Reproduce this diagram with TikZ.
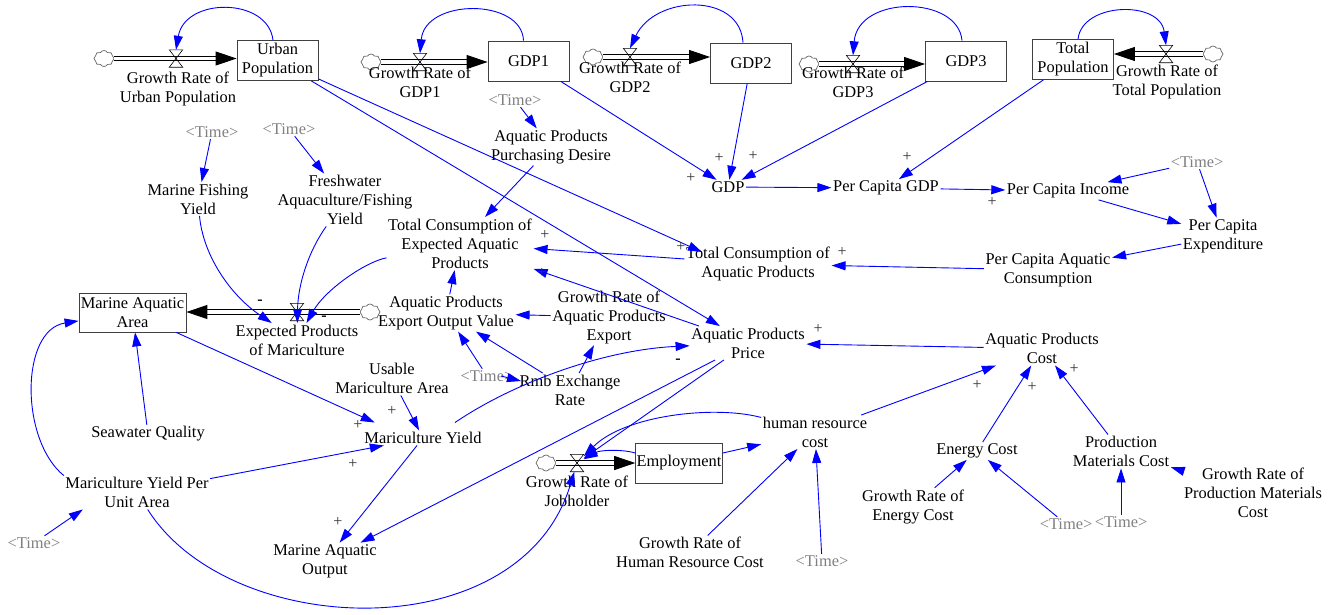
\documentclass[tikz,border=0pt]{standalone}
\usepackage{fontspec}
\setmainfont{Liberation Serif}
\usetikzlibrary{arrows.meta,shapes.symbols,calc}
\definecolor{linkblue}{RGB}{0,0,255}
\definecolor{timegray}{RGB}{128,128,128}
\begin{document}
\begin{tikzpicture}[x=1pt,y=-1pt,
  font=\fontsize{16.4}{19}\selectfont,
  aux/.style={align=center,inner sep=1.5pt},
  tm/.style={aux,text=timegray},
  stock/.style={draw=black!75,line width=0.8pt,fill=white,minimum width=81pt,minimum height=40pt,align=center,inner sep=1pt},
  cloudnode/.style={cloud,cloud puffs=8,cloud puff arc=120,aspect=1.25,draw=black!60,line width=0.7pt,minimum width=20pt,minimum height=16pt,inner sep=1pt,fill=white},
  valve/.style={minimum width=13pt,minimum height=17pt,inner sep=0pt},
  pipe/.style={draw=black,double=white,double distance=3.6pt,line width=0.9pt,-{Triangle[length=21pt,width=14pt]}},
  link/.style={draw=linkblue,line width=0.9pt,-{Triangle[length=14pt,width=9pt]}},
  pol/.style={inner sep=0pt,font=\fontsize{16}{16}\selectfont,text=black!80},
  neg/.style={inner sep=0pt,font=\fontsize{16}{16}\selectfont\bfseries},
]
\useasboundingbox (0,0) rectangle (1337,614);

% stocks
\node[stock] (UP) at (277.5,60.5) {Urban\\Population};
\node[stock] (G1) at (528.5,61) {GDP1};
\node[stock] (G2) at (751,63) {GDP2};
\node[stock] (G3) at (966,61) {GDP3};
\node[stock] (TP) at (1073,59.5) {Total\\Population};
\node[stock,minimum width=107pt,minimum height=39pt] (MAA) at (132.5,312.5) {Marine Aquatic\\Area};
\node[stock] (EMP) at (679,463) {Employment};

% clouds
\node[cloudnode] (cUP) at (104,58.5) {};
\node[cloudnode] (cG1) at (371,62) {};
\node[cloudnode] (cG2) at (593,57) {};
\node[cloudnode] (cG3) at (809,64) {};
\node[cloudnode] (cTP) at (1213,54) {};
\node[cloudnode] (cEPM) at (370,312) {};
\node[cloudnode] (cGRJ) at (546,463) {};

% pipes
\draw[pipe] (cUP) -- (cUP -| UP.west);
\draw[pipe] (cG1) -- (cG1 -| G1.west);
\draw[pipe] (cG2) -- (cG2 -| G2.west);
\draw[pipe] (cG3) -- (cG3 -| G3.west);
\draw[pipe] (cTP) -- (cTP -| TP.east);
\draw[pipe] (cEPM) -- (cEPM -| MAA.east);
\draw[pipe] (cGRJ) -- (cGRJ -| EMP.west);

% valves
\foreach \n/\x/\y in {vUP/176/58.5, vG1/420/62, vG2/630/57, vG3/853/64, vTP/1166/54, vEPM/297/312, vGRJ/577/463} {
  \node[valve] (\n) at (\x,\y) {};
  \draw[line width=0.6pt] (\n.north west) -- (\n.north east) -- (\n.south west) -- (\n.south east) -- cycle;
}

% valve labels
\node[aux] (lUP) at (178,88.5) {Growth Rate of\\Urban Population};
\node[aux] (lG1) at (420,82) {Growth Rate of\\GDP1};
\node[aux] (lG2) at (630,77.5) {Growth Rate of\\GDP2};
\node[aux] (lG3) at (853,82.5) {Growth Rate of\\GDP3};
\node[aux] (lTP) at (1167,82) {Growth Rate of\\Total Population};
\node[aux] (lEPM) at (297,340) {Expected Products\\of Mariculture};
\node[aux] (lGRJ) at (577,491) {Growth Rate of\\Jobholder};

% auxiliaries
\node[tm] (T1) at (515,100) {<Time>};
\node[aux] (APPD) at (551,147) {Aquatic Products\\Purchasing Desire};
\node[aux] (GDP) at (728,187) {GDP};
\node[aux] (PCGDP) at (886,188) {Per Capita GDP};
\node[aux] (PCI) at (1068,191) {Per Capita Income};
\node[tm] (T2) at (1197,162) {<Time>};
\node[aux] (PCE) at (1223,236) {Per Capita\\Expenditure};
\node[aux] (PCAC) at (1048,270) {Per Capita Aquatic\\Consumption};
\node[aux] (TCAP) at (758,264) {Total Consumption of\\Aquatic Products};
\node[aux] (TCEAP) at (460,243.5) {Total Consumption of\\Expected Aquatic\\Products};
\node[aux] (MFY) at (198,199) {Marine Fishing\\Yield};
\node[tm] (T3) at (212,132) {<Time>};
\node[tm] (T4) at (289,129) {<Time>};
\node[aux] (FAFY) at (345,200) {Freshwater\\Aquaculture/Fishing\\Yield};
\node[aux] (APEOV) at (446,313) {Aquatic Products\\Export Output Value};
\node[aux] (GRAPE) at (609,317) {Growth Rate of\\Aquatic Products\\Export};
\node[aux] (APP) at (748,343) {Aquatic Products\\Price};
\node[aux] (APC) at (1042,348.5) {Aquatic Products\\Cost};
\node[aux] (UMA) at (392,378.5) {Usable\\Mariculture Area};
\node[aux] (MY) at (423,438) {Mariculture Yield};
\node[aux] (RER) at (570,390) {Rmb Exchange\\Rate};
\node[tm] (T5) at (487,376) {<Time>};
\node[aux] (SQ) at (148,434) {Seawater Quality};
\node[aux] (MYPUA) at (137,492.5) {Mariculture Yield Per\\Unit Area};
\node[tm] (T6) at (34,543) {<Time>};
\node[aux] (MAO) at (325,561) {Marine Aquatic\\Output};
\node[aux] (HRC) at (815,432) {human resource\\cost};
\node[aux] (GRHRC) at (690,552.5) {Growth Rate of\\Human Resource Cost};
\node[tm] (T7) at (822,561) {<Time>};
\node[aux] (EC) at (977,451) {Energy Cost};
\node[aux] (PMC) at (1121,451.5) {Production\\Materials Cost};
\node[aux] (GRPMC) at (1253,493) {Growth Rate of\\Production Materials\\Cost};
\node[aux] (GREC) at (913,506.5) {Growth Rate of\\Energy Cost};
\node[tm] (T8) at (1066,524) {<Time>};
\node[tm] (T9) at (1121,522) {<Time>};

% stock feedback arcs
\draw[link] ([xshift=-4.5pt]UP.north) .. controls (268,-3) and (185,-3) .. (vUP.north);
\draw[link] ([xshift=-5pt]G1.north) .. controls (522,-2) and (425,-2) .. (vG1.north);
\draw[link] ([xshift=-8pt]G2.north) .. controls (740,-8) and (655,-5) .. (vG2.north);
\draw[link] ([xshift=-4pt]G3.north) .. controls (958,-5) and (858,-5) .. (vG3.north);
\draw[link] ([xshift=5pt]TP.north) .. controls (1082,2) and (1160,0) .. (vTP.north);

% links
\draw[link] (G1) -- (GDP);
\draw[link] (G2) -- (GDP);
\draw[link] (G3) -- (GDP);
\draw[link] (TP) -- (PCGDP);
\draw[link] (GDP) -- (PCGDP);
\draw[link] (PCGDP) -- (PCI);
\draw[link] (T2) -- (PCI);
\draw[link] (T2) -- (PCE);
\draw[link] (PCI) -- (PCE);
\draw[link] (PCE) -- (PCAC);
\draw[link] (PCAC) -- (TCAP);
\draw[link] (TCAP) -- (TCEAP);
\draw[link] (APP) -- (TCEAP);
\draw[link] (UP) -- (APP);
\draw[link] (UP) -- ($(TCAP)+(-56,-12)$);
\draw[link] (APPD) -- (TCEAP);
\draw[link] (T1) -- (APPD);
\draw[link] (MFY) .. controls (203,255) and (230,295) .. (lEPM);
\draw[link] (FAFY) .. controls (308,252) and (298,285) .. (lEPM);
\draw[link] (TCEAP) .. controls (365,262) and (325,290) .. (lEPM);
\draw[link] (T3) -- (MFY);
\draw[link] (T4) -- (FAFY);
\draw[link] (APEOV) -- (TCEAP);
\draw[link] (GRAPE) -- (APEOV);
\draw[link] (RER) -- (APEOV);
\draw[link] (T5) -- (APEOV);
\draw[link] ([xshift=-14pt]T5.east) -- ([xshift=3pt,yshift=9pt]RER.west);
\draw[link] (RER) -- (GRAPE);
\draw[link] ([xshift=32pt,yshift=8pt]MY.north) .. controls (510,385) and (600,350) .. (APP);
\draw[link] (MAA) -- ([xshift=12pt,yshift=8pt]MY.north west);
\draw[link] (UMA) -- (MY);
\draw[link] (MYPUA) -- (MY);
\draw[link] (SQ) -- (MAA);
\draw[link] (MYPUA.north west) .. controls (20,440) and (20,330) .. (MAA);
\draw[link] (T6) -- ([xshift=19pt]MYPUA.south west);
\draw[link] (MY) -- (MAO);
\draw[link] (APP) -- (MAO);
\draw[link] (APP) -- (vGRJ);
\draw[link] (HRC) .. controls (715,405) and (625,415) .. (vGRJ);
\draw[link] ([yshift=10pt]EMP.west) .. controls (622,449) and (600,450) .. (vGRJ);
\draw[link] (EMP) -- (HRC);
\draw[link] (GRHRC) -- (HRC);
\draw[link] (T7) -- (HRC);
\draw[link] (MYPUA) .. controls (230,640) and (520,650) .. (vGRJ);
\draw[link] (HRC) -- (APC);
\draw[link] (EC) -- (APC);
\draw[link] (PMC) -- (APC);
\draw[link] (APC) -- (APP);
\draw[link] (GREC) -- (EC);
\draw[link] (T8) -- (EC);
\draw[link] (T9) -- (PMC);
\draw[link] (GRPMC) -- (PMC);

% polarities
\node[pol] (p1) at (719,158) {+};
\node[pol] (p2) at (753,156) {+};
\node[pol] (p3) at (691,178) {+};
\node[pol] (p4) at (907,157) {+};
\node[pol] (p5) at (992,202) {+};
\node[pol] (p6) at (545,235) {+};
\node[pol] (p7) at (542,273) {+};
\node[pol] (p8) at (681,247) {+};
\node[pol] (p9) at (842,252) {+};
\node[pol] (p10) at (818,329) {+};
\node[pol] (p11) at (392,411) {+};
\node[pol] (p12) at (358,425) {+};
\node[pol] (p13) at (353,464) {+};
\node[pol] (p14) at (338,522) {+};
\node[pol] (p15) at (977,385) {+};
\node[pol] (p16) at (1032,387) {+};
\node[pol] (p17) at (1074,369) {+};
\node[neg] (n1) at (260,302) {-};
\node[neg] (n2) at (324,318) {-};
\node[neg] (n3) at (678,361) {-};
\end{tikzpicture}
\end{document}
